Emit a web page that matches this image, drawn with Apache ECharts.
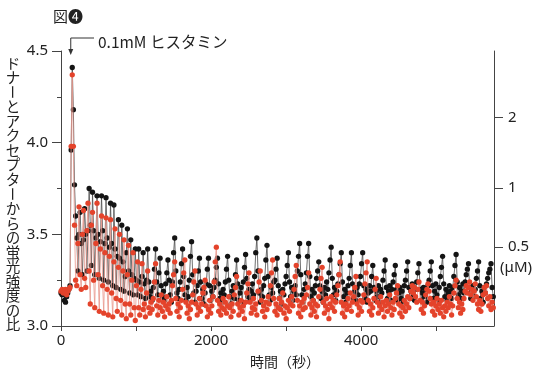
<!DOCTYPE html>
<html>
<head>
<meta charset="utf-8">
<script src="https://cdn.jsdelivr.net/npm/echarts@6/dist/echarts.min.js"></script>
<style>
  html, body { margin: 0; padding: 0; background: #fff; }
  #chart { width: 543px; height: 374px; }
</style>
</head>
<body>
<div id="chart"></div>
<script>
// 測定間隔（秒）
var sampleStep = 15;
var stimulusTime = 130;

// ドナー/アクセプター比 — 黒の系列
var blackRatio = [
  3.18,3.17,3.19,3.14,3.13,3.16,3.18,3.20,3.22,3.96,
  4.41,4.18,3.77,3.60,3.48,3.30,3.50,3.62,3.45,3.28,
  3.47,3.64,3.50,3.30,3.52,3.75,3.55,3.33,3.73,3.52,
  3.28,3.48,3.71,3.50,3.26,3.46,3.71,3.52,3.25,3.45,
  3.70,3.48,3.24,3.43,3.67,3.45,3.22,3.66,3.42,3.21,
  3.38,3.58,3.37,3.20,3.55,3.35,3.19,3.27,3.40,3.53,
  3.30,3.18,3.47,3.28,3.17,3.26,3.42,3.25,3.17,3.42,
  3.24,3.16,3.27,3.40,3.23,3.15,3.25,3.42,3.24,3.16,
  3.19,3.14,3.21,3.31,3.42,3.24,3.17,3.29,3.37,3.22,
  3.16,3.19,3.14,3.23,3.29,3.36,3.25,3.17,3.13,3.24,
  3.40,3.48,3.30,3.18,3.15,3.20,3.24,3.34,3.42,3.27,
  3.17,3.14,3.21,3.16,3.25,3.38,3.46,3.28,3.18,3.13,
  3.19,3.22,3.30,3.37,3.24,3.15,3.20,3.12,3.18,3.23,
  3.31,3.37,3.22,3.14,3.19,3.16,3.21,3.25,3.32,3.37,
  3.23,3.15,3.18,3.13,3.20,3.17,3.24,3.31,3.38,3.25,
  3.16,3.12,3.19,3.22,3.15,3.28,3.36,3.23,3.14,3.18,
  3.21,3.13,3.24,3.32,3.39,3.26,3.16,3.20,3.14,3.19,
  3.23,3.17,3.27,3.40,3.48,3.30,3.18,3.13,3.20,3.16,
  3.22,3.26,3.36,3.44,3.27,3.17,3.14,3.21,3.18,3.24,
  3.25,3.31,3.37,3.22,3.15,3.19,3.12,3.20,3.17,3.23,
  3.27,3.33,3.40,3.24,3.16,3.21,3.14,3.19,3.22,3.17,
  3.30,3.38,3.45,3.28,3.17,3.13,3.20,3.23,3.29,3.38,
  3.45,3.27,3.16,3.20,3.14,3.18,3.22,3.26,3.30,3.35,
  3.22,3.15,3.19,3.13,3.21,3.17,3.24,3.20,3.29,3.36,
  3.43,3.26,3.17,3.21,3.14,3.19,3.23,3.28,3.34,3.40,
  3.24,3.16,3.20,3.13,3.18,3.22,3.26,3.33,3.40,3.23,
  3.15,3.19,3.14,3.21,3.17,3.23,3.27,3.34,3.40,3.22,
  3.15,3.20,3.13,3.18,3.22,3.19,3.27,3.33,3.21,3.14,
  3.19,3.16,3.22,3.13,3.20,3.18,3.25,3.30,3.36,3.21,
  3.15,3.19,3.22,3.14,3.20,3.24,3.28,3.33,3.20,3.14,
  3.18,3.21,3.15,3.19,3.13,3.22,3.25,3.30,3.35,3.21,
  3.15,3.19,3.23,3.17,3.14,3.20,3.24,3.29,3.34,3.20,
  3.14,3.18,3.21,3.16,3.20,3.13,3.22,3.25,3.30,3.35,
  3.22,3.15,3.19,3.23,3.17,3.14,3.21,3.27,3.32,3.38,
  3.23,3.16,3.20,3.14,3.18,3.22,3.19,3.15,3.21,3.27,
  3.33,3.39,3.24,3.17,3.21,3.15,3.19,3.23,3.18,3.24,
  3.28,3.31,3.34,3.21,3.15,3.19,3.22,3.16,3.20,3.26,
  3.30,3.35,3.22,3.15,3.19,3.13,3.21,3.18,3.23,3.26,
  3.29,3.31,3.34,3.21,3.16
];

// ドナー/アクセプター比 — 赤の系列
var redRatio = [
  3.19,3.20,3.18,3.19,3.20,3.17,3.19,3.20,3.21,3.98,
  4.37,3.98,3.55,3.25,3.22,3.45,3.65,3.28,3.20,3.50,
  3.63,3.26,3.21,3.52,3.67,3.30,3.12,3.55,3.62,3.25,
  3.10,3.45,3.67,3.28,3.08,3.42,3.60,3.22,3.07,3.40,
  3.59,3.20,3.06,3.38,3.58,3.18,3.05,3.35,3.53,3.15,
  3.08,3.32,3.50,3.14,3.06,3.30,3.47,3.12,3.04,3.28,
  3.44,3.12,3.06,3.25,3.40,3.10,3.03,3.22,3.35,3.10,
  3.06,3.20,3.34,3.09,3.12,3.05,3.18,3.30,3.10,3.07,
  3.13,3.09,3.15,3.24,3.34,3.11,3.06,3.14,3.10,3.17,
  3.08,3.13,3.05,3.11,3.16,3.09,3.12,3.07,3.14,3.22,
  3.28,3.35,3.15,3.08,3.12,3.05,3.10,3.14,3.20,3.29,
  3.36,3.13,3.07,3.11,3.04,3.09,3.13,3.17,3.24,3.30,
  3.12,3.06,3.10,3.15,3.08,3.12,3.18,3.21,3.25,3.11,
  3.05,3.09,3.14,3.07,3.11,3.16,3.24,3.35,3.43,3.14,
  3.08,3.12,3.06,3.10,3.15,3.09,3.13,3.07,3.11,3.16,
  3.10,3.05,3.12,3.08,3.17,3.21,3.27,3.12,3.06,3.10,
  3.14,3.08,3.11,3.04,3.13,3.18,3.23,3.29,3.13,3.07,
  3.10,3.15,3.09,3.12,3.06,3.19,3.24,3.30,3.14,3.08,
  3.11,3.05,3.13,3.09,3.16,3.12,3.22,3.29,3.36,3.15,
  3.08,3.12,3.06,3.10,3.15,3.09,3.13,3.18,3.07,3.11,
  3.04,3.10,3.14,3.08,3.12,3.16,3.11,3.20,3.27,3.33,
  3.14,3.07,3.11,3.05,3.13,3.09,3.15,3.10,3.17,3.21,
  3.29,3.12,3.06,3.10,3.14,3.08,3.12,3.05,3.11,3.16,
  3.20,3.26,3.32,3.13,3.07,3.11,3.15,3.09,3.04,3.12,
  3.16,3.10,3.14,3.08,3.13,3.17,3.22,3.28,3.35,3.13,
  3.07,3.11,3.05,3.12,3.09,3.15,3.11,3.18,3.08,3.13,
  3.16,3.21,3.27,3.12,3.06,3.10,3.14,3.08,3.13,3.17,
  3.23,3.29,3.35,3.14,3.08,3.12,3.06,3.10,3.15,3.20,
  3.26,3.13,3.07,3.11,3.16,3.09,3.13,3.05,3.11,3.14,
  3.08,3.12,3.17,3.10,3.06,3.13,3.09,3.15,3.18,3.22,
  3.12,3.07,3.11,3.05,3.10,3.14,3.08,3.12,3.16,3.10,
  3.15,3.19,3.22,3.18,3.21,3.16,3.13,3.20,3.24,3.14,
  3.09,3.13,3.07,3.11,3.17,3.20,3.23,3.19,3.15,3.12,
  3.08,3.13,3.06,3.11,3.15,3.09,3.12,3.07,3.14,3.10,
  3.05,3.11,3.08,3.13,3.10,3.16,3.12,3.06,3.11,3.18,
  3.22,3.25,3.15,3.10,3.13,3.07,3.12,3.09,3.15,3.19,
  3.22,3.18,3.21,3.24,3.17,3.20,3.14,3.19,3.23,3.16,
  3.12,3.09,3.14,3.08,3.12,3.17,3.21,3.18,3.22,3.15,
  3.11,3.16,3.09,3.13,3.10
];

// 軸の目盛
var xTickValues = [0, 1000, 2000, 3000, 4000, 5000];
var xLabelValues = [0, 2000, 4000];
// 右軸 Ca2+濃度（μM）の目盛と対応する比
var caLabels = ['2', '1', '0.5'];
var caRatioPos = [4.136, 3.752, 3.43];

var yName = 'ドナーとアクセプターからの蛍光強度の比';
var xName = '時間（秒）';
var figTitle = '図❹';
var stimLabel = '0.1mM ヒスタミン';

var labelFont = 'Noto Sans';
var jpFont = 'Noto Sans CJK JP';

var chart = echarts.init(document.getElementById('chart'));

var blackData = blackRatio.map(function (v, i) { return [i * sampleStep, v]; });
var redData = redRatio.map(function (v, i) { return [i * sampleStep, v]; });

var option = {
  animation: false,
  backgroundColor: '#fff',
  grid: { left: 61, right: 49, top: 51, bottom: 48 },
  xAxis: {
    type: 'value',
    min: 0,
    max: 5770,
    name: xName,
    nameLocation: 'middle',
    nameGap: 29,
    nameTextStyle: { fontFamily: jpFont, fontSize: 14, color: '#222', padding: [0, 0, 0, 15] },
    axisLine: { show: true, lineStyle: { color: '#444', width: 1 } },
    axisTick: { show: true, inside: false, customValues: xTickValues, length: 5, lineStyle: { color: '#444' } },
    axisLabel: {
      customValues: xLabelValues,
      margin: 7,
      fontFamily: labelFont,
      fontSize: 15,
      color: '#222',
      formatter: function (v) { return String(v); }
    },
    splitLine: { show: false }
  },
  yAxis: [
    {
      type: 'value',
      min: 3,
      max: 4.5,
      interval: 0.5,
      axisLine: { show: true, lineStyle: { color: '#444', width: 1 } },
      axisTick: { show: true, length: 9, lineStyle: { color: '#444' } },
      minorTick: { show: true, splitNumber: 2, length: 4, lineStyle: { color: '#444' } },
      axisLabel: {
        margin: 13,
        fontFamily: labelFont,
        fontSize: 15,
        color: '#222',
        formatter: function (v) { return v.toFixed(1); }
      },
      splitLine: { show: false }
    },
    {
      type: 'value',
      position: 'right',
      min: 3,
      max: 4.5,
      axisLine: { show: true, lineStyle: { color: '#444', width: 1 } },
      axisTick: { show: true, customValues: caRatioPos, length: 9, lineStyle: { color: '#444' } },
      axisLabel: {
        customValues: caRatioPos,
        margin: 14,
        fontFamily: labelFont,
        fontSize: 15,
        color: '#222',
        formatter: function (v) {
          var best = 0;
          for (var k = 1; k < caRatioPos.length; k++) {
            if (Math.abs(caRatioPos[k] - v) < Math.abs(caRatioPos[best] - v)) best = k;
          }
          return caLabels[best];
        }
      },
      splitLine: { show: false }
    }
  ],
  series: [
    {
      type: 'line',
      data: blackData,
      symbol: 'circle',
      symbolSize: 5.3,
      showAllSymbol: true,
      lineStyle: { color: '#4a4a4a', width: 0.8 },
      itemStyle: { color: '#141414' },
      z: 2
    },
    {
      type: 'line',
      data: redData,
      symbol: 'circle',
      symbolSize: 5.3,
      showAllSymbol: true,
      lineStyle: { color: '#e8958a', width: 0.8 },
      itemStyle: { color: '#e4432b' },
      z: 3
    }
  ]
};
chart.setOption(option);

// 注釈・縦書きラベルなど
var arrowX = chart.convertToPixel({ xAxisIndex: 0 }, stimulusTime);
var graphics = [
  {
    type: 'text', left: 53, top: 9,
    style: { text: figTitle, font: '15px "' + jpFont + '"', fill: '#222' }
  },
  {
    type: 'text', x: 98, y: 42,
    style: { text: stimLabel, font: '15.5px "' + jpFont + '"', fill: '#222', verticalAlign: 'middle' }
  },
  {
    type: 'polyline',
    shape: { points: [[94, 38], [arrowX, 38], [arrowX, 50]] },
    style: { stroke: '#333', lineWidth: 1, fill: null }
  },
  {
    type: 'polygon',
    shape: { points: [[arrowX - 2.5, 49], [arrowX + 2.5, 49], [arrowX, 55]] },
    style: { fill: '#333' }
  },
  {
    type: 'text', x: 500, y: 268,
    style: { text: '(μM)', font: '15px "' + labelFont + '"', fill: '#222', verticalAlign: 'middle' }
  }
];
var chars = yName.split('');
var pitch = 14.55;
chars.forEach(function (c, i) {
  graphics.push({
    type: 'text',
    x: 13,
    y: 63 + i * pitch,
    rotation: c === 'ー' ? -Math.PI / 2 : 0,
    style: {
      text: c,
      font: '14.5px "' + jpFont + '"',
      fill: '#222',
      align: 'center',
      verticalAlign: 'middle'
    }
  });
});
chart.setOption({ graphic: graphics });
</script>
</body>
</html>
